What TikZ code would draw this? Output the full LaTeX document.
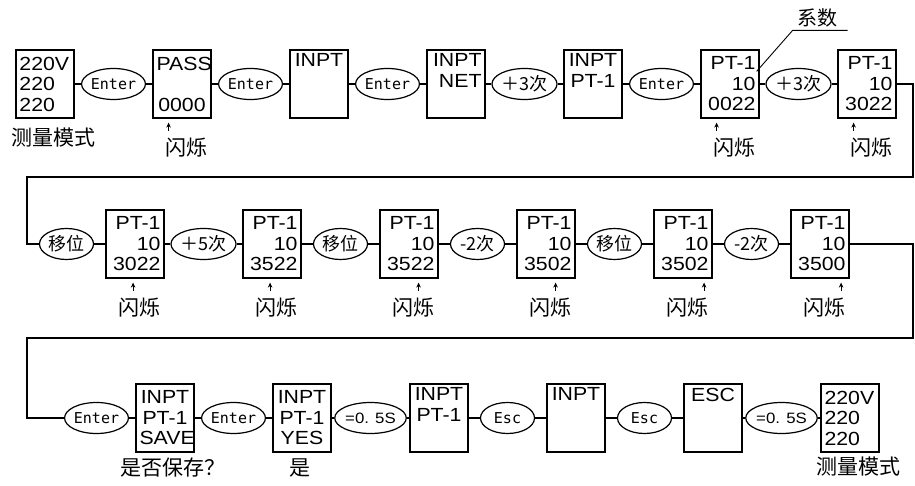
\documentclass[tikz,border=0pt]{standalone}
\usepackage{fontspec}
\setmainfont{Liberation Sans}[FakeStretch=1.12]
\setmonofont{DejaVu Sans Mono}
\newfontfamily\cjk{Noto Sans CJK SC}
\usetikzlibrary{shapes.geometric,arrows.meta}

% Chinese text inside the key ellipses
\newcommand{\zh}{\cjk\fontsize{18}{18}\selectfont}

\tikzset{
  panel/.style={draw, line width=1.2pt, minimum width=58pt, minimum height=68pt,
    text width=51pt, inner xsep=3.5pt, inner ysep=0pt, font=\fontsize{19}{20.5}\selectfont},
  key/.style={draw, ellipse, line width=1.2pt, minimum width=54pt, minimum height=31pt,
    inner sep=0pt, font=\fontsize{15}{15}\selectfont},
  wire/.style={line width=1.2pt},
  note/.style={font=\cjk\fontsize{21}{21}\selectfont, inner sep=0pt},
  tick/.style={line width=1pt, -{Stealth[length=5pt,width=4.5pt]}}
}

\begin{document}
\begin{tikzpicture}[x=1pt,y=-1pt]
  \useasboundingbox (0,0) rectangle (915,486);

  % Distance between two panels of the same row
  \pgfmathsetmacro{\pitch}{137}

  % Height of the three rows (counted from the top)
  \pgfmathsetmacro{\rowa}{84}
  \pgfmathsetmacro{\rowb}{244}
  \pgfmathsetmacro{\rowc}{418}

  % First row: from measuring mode to the coefficient
  \node[panel, align=left]   (a1) at (45,\rowa) {220V\\220\\220};
  \node[panel, align=center] (a2) at ({45+1*\pitch},\rowa) {PASS\\\strut\\0000};
  \node[panel, align=center] (a3) at ({45+2*\pitch},\rowa) {INPT\\\strut\\\strut};
  \node[panel, align=right]  (a4) at ({45+3*\pitch},\rowa) {INPT\\NET\\\strut};
  \node[panel, align=center] (a5) at ({45+4*\pitch},\rowa) {INPT\\PT-1\\\strut};
  \node[panel, align=right]  (a6) at ({45+5*\pitch},\rowa) {PT-1\\10\\0022};
  \node[panel, align=right]  (a7) at ({45+6*\pitch},\rowa) {PT-1\\10\\3022};

  % Keys of the first row sit half way between two panels
  \foreach \x/\txt in {1/{\ttfamily Enter}, 2/{\ttfamily Enter}, 3/{\ttfamily Enter},
                       4/{\zh ＋3次}, 5/{\ttfamily Enter}, 6/{\zh ＋3次}}{
    \pgfmathsetmacro{\kx}{45 + \pitch*(\x-1) + 0.5*\pitch}
    \node[key] (ka\x) at (\kx,\rowa) {\txt};
  }

  % Second row: moving and changing the digits
  \foreach \x/\val in {1/3022, 2/3522, 3/3522, 4/3502, 5/3502, 6/3500}{
    \pgfmathsetmacro{\px}{135 + \pitch*(\x-1)}
    \node[panel, align=right] (b\x) at (\px,\rowb) {PT-1\\10\\\val};
  }
  \foreach \x/\txt in {1/{\zh 移位}, 2/{\zh ＋5次}, 3/{\zh 移位},
                       4/{\zh -2次}, 5/{\zh 移位}, 6/{\zh -2次}}{
    \pgfmathsetmacro{\kx}{135 + \pitch*(\x-1) - 0.5*\pitch}
    \node[key] (kb\x) at (\kx,\rowb) {\txt};
  }

  % Third row: saving and going back to measuring mode
  \node[panel, align=center] (c1) at (165,\rowc) {INPT\\PT-1\\SAVE};
  \node[panel, align=center] (c2) at ({165+1*\pitch},\rowc) {INPT\\PT-1\\YES};
  \node[panel, align=center] (c3) at ({165+2*\pitch},\rowc) {INPT\\PT-1\\\strut};
  \node[panel, align=center] (c4) at ({165+3*\pitch},\rowc) {INPT\\\strut\\\strut};
  \node[panel, align=center] (c5) at ({165+4*\pitch},\rowc) {ESC\\\strut\\\strut};
  \node[panel, align=left]   (c6) at ({165+5*\pitch},\rowc) {220V\\220\\220};
  \foreach \x/\txt in {1/{\ttfamily Enter}, 2/{\ttfamily Enter}, 3/{=0. 5S},
                       4/{\ttfamily Esc}, 5/{\ttfamily Esc}, 6/{=0. 5S}}{
    \pgfmathsetmacro{\kx}{165 + \pitch*(\x-1) - 0.5*\pitch}
    \node[key] (kc\x) at (\kx,\rowc) {\txt};
  }

  % Wires inside the rows
  \foreach \x in {1, ..., 6}{
    \pgfmathtruncatemacro{\nx}{\x+1}
    \draw[wire] (a\x) -- (ka\x) -- (a\nx);
  }
  \foreach \x in {1, ..., 5}{
    \pgfmathtruncatemacro{\nx}{\x+1}
    \draw[wire] (kb\x) -- (b\x) -- (kb\nx);
    \draw[wire] (kc\x) -- (c\x) -- (kc\nx);
  }
  \draw[wire] (kb6) -- (b6);
  \draw[wire] (kc6) -- (c6);

  % Wires running back to the start of the next row
  \coordinate (ra) at (913,177);
  \coordinate (la) at (27,177);
  \coordinate (rb) at (913,338);
  \coordinate (lb) at (27,338);
  \draw[wire] (a7) -| (ra) -- (la) |- (kb1);
  \draw[wire] (b6) -| (rb) -- (lb) |- (kc1);

  % Flashing digit: panel / position of the digit (1 = leftmost)
  \foreach \bx/\dg in {a2/1, a6/1, a7/1, b1/2, b2/2, b3/3, b4/3, b5/4, b6/4}{
    \pgfmathsetmacro{\dx}{8.5 + 11.5*(4-\dg)}
    \node[note] (f\bx) at ([shift={(4,29)}]\bx.south) {闪烁};
    \draw[tick] ([shift={(-\dx,12)}]\bx.south east) -- ++(0,-8);
  }

  % Captions
  \node[note] (ma) at (53,138) {测量模式};
  \node[note] (mb) at (858,467) {测量模式};
  \node[note] (sv) at (173,468) {是否保存？};
  \node[note] (ys) at (300,468) {是};

  % Coefficient with its leader line
  \node[note, font=\cjk\fontsize{20}{20}\selectfont] (coef) at (817,18) {系数};
  \coordinate (lead) at ([shift={(-3,22)}]a6.north east);
  \draw[line width=0.9pt] (lead) -- ++(36,-41) -- ++(55,0);

\end{tikzpicture}
\end{document}
